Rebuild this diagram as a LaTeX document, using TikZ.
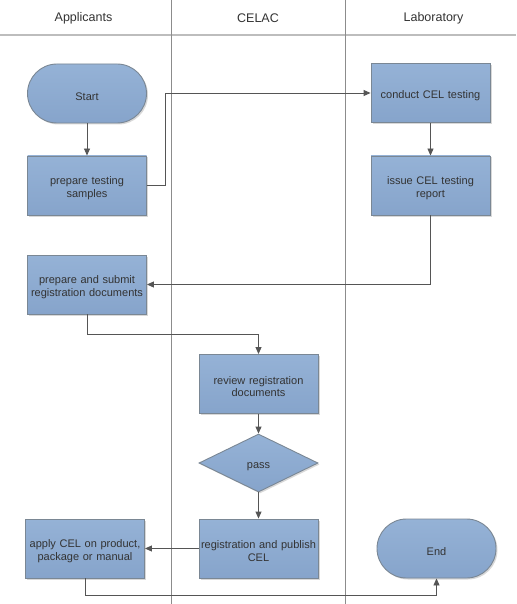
\documentclass[tikz,border=0pt]{standalone}
\usepackage{fontspec}
\setmainfont{Liberation Sans}
\usepackage{xcolor}
\usetikzlibrary{shapes,arrows,positioning,calc,shadows,arrows.meta}

\definecolor{boxtop}{HTML}{95B2D6}
\definecolor{boxbot}{HTML}{86A4CB}
\definecolor{boxline}{HTML}{7A8794}
\definecolor{flowline}{HTML}{555555}
\definecolor{laneline}{HTML}{8C8C8C}
\definecolor{headline}{HTML}{BDBDBD}
\definecolor{txt}{HTML}{333333}

\tikzset{
    base/.style={draw=boxline, line width=0.9pt, top color=boxtop, bottom color=boxbot,
        text=txt, font=\fontsize{11}{12.5}\selectfont, align=center, inner sep=2pt,
        execute at begin node={\rule{0pt}{13.5pt}},
        drop shadow={opacity=0.3, shadow xshift=1.5pt, shadow yshift=-1.5pt}},
    process/.style={base, rectangle, minimum width=119pt, minimum height=59pt, text width=115pt},
    terminal/.style={base, rectangle, rounded corners=29.5pt, minimum width=119pt, minimum height=59pt},
    decision/.style={base, diamond, minimum width=119pt, minimum height=58pt, inner sep=0pt},
    flow/.style={draw=flowline, line width=0.9pt, -{Triangle[length=7pt,width=6pt]}},
    lanetitle/.style={text=txt, font=\fontsize{12.5}{14}\selectfont}
}

\begin{document}
\begin{tikzpicture}[x=1pt, y=-1pt]
    \useasboundingbox (0,0) rectangle (516,604);
    \fill[white] (0,0) rectangle (516,604);

    % lanes
    \draw[headline, line width=2pt] (0,35) -- (516,35);
    \draw[laneline, line width=0.8pt] (171,0) -- (171,604);
    \draw[laneline, line width=0.8pt] (345.5,0) -- (345.5,604);

    \node[lanetitle] (applicants) at (83.5,18) {Applicants};
    \node[lanetitle] (celac) at (258,18) {CELAC};
    \node[lanetitle] (laboratory) at (433.5,18) {Laboratory};

    \node[terminal] (start) at (87,93.5) {Start};
    \node[process] (samples) at (87,185.5) {prepare testing\\samples};
    \node[process] (conduct) at (430.5,93) {conduct CEL testing};
    \node[process] (report) at (430.5,185.5) {issue CEL testing\\report};
    \node[process] (submit) at (87,284.5) {prepare and submit\\registration documents};
    \node[process] (review) at (258.5,384) {review registration\\documents};
    \node[decision] (pass) at (258.5,463) {pass};
    \node[process] (publish) at (258.5,548.5) {registration and publish\\CEL};
    \node[process] (apply) at (85,548.5) {apply CEL on product,\\package or manual};
    \node[terminal] (end) at (436.5,548.5) {End};

    \draw[flow] (start) -- (samples);
    \draw[flow] (samples.east) -- ++(18.5,0) |- (conduct.west);
    \draw[flow] (conduct) -- (report);
    \draw[flow] (report.south) |- (submit.east);
    \draw[flow] (submit.south) -- ++(0,20) -| (review.north);
    \draw[flow] (review) -- (pass);
    \draw[flow] (pass) -- (publish);
    \draw[flow] (publish) -- (apply);
    \draw[flow] (apply.south) -- ++(0,17) -| (end.south);
\end{tikzpicture}
\end{document}
